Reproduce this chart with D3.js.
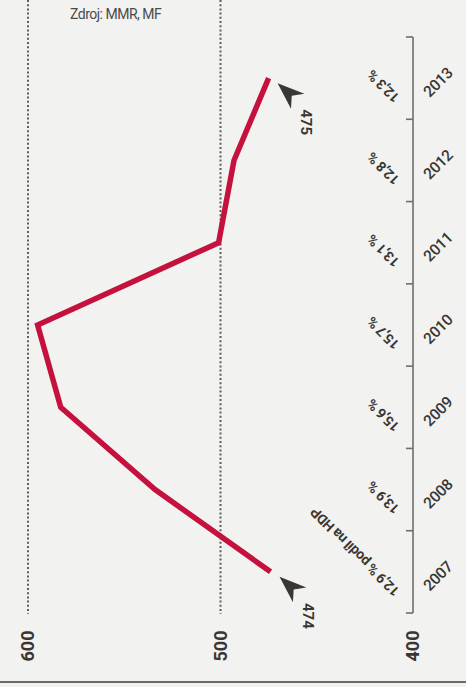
<!DOCTYPE html>
<html>
<head>
<meta charset="utf-8">
<script src="https://cdn.jsdelivr.net/npm/d3@7"></script>
<style>
  html, body { margin: 0; padding: 0; background: #f2f2f1; }
  svg { display: block; }
  text { font-family: Roboto, "Liberation Sans", sans-serif; fill: #3a3632; }
</style>
</head>
<body>
<div id="chart"></div>
<script>
// data (rotated chart: years run bottom -> top, values right -> left)
var years = ['2007', '2008', '2009', '2010', '2011', '2012', '2013'];
var values = [474, 534, 583, 595, 501, 493, 475];
var shares = ['12,9 % podíl na HDP', '13,9 %', '15,6 %', '15,7 %', '13,1 %', '12,8 %', '12,3 %'];
var valueTicks = [400, 500, 600];
var gridTicks = [500, 600];
var source = 'Zdroj: MMR, MF';

var W = 466, H = 687;

var svg = d3.select('#chart').append('svg')
    .attr('width', W).attr('height', H);

svg.append('rect').attr('width', W).attr('height', H).attr('fill', '#f2f2f1');

var x = d3.scaleLinear().domain([400, 600]).range([413, 28]);
var y = d3.scaleBand().domain(years).range([613, 37]);
var cy = function(d){ return y(d) + y.bandwidth() / 2; };

// dotted gridlines
svg.selectAll('line.grid').data(gridTicks).enter().append('line')
    .attr('class', 'grid')
    .attr('x1', function(d){ return x(d); })
    .attr('x2', function(d){ return x(d); })
    .attr('y1', 0).attr('y2', 614)
    .attr('stroke', '#5e5e5e')
    .attr('stroke-width', 2)
    .attr('stroke-dasharray', '2,2.2');

// value labels, rotated
svg.selectAll('text.val').data(valueTicks).enter().append('text')
    .attr('class', 'val')
    .attr('transform', function(d){ return 'translate(' + x(d) + ',646) rotate(-90)'; })
    .attr('text-anchor', 'middle')
    .attr('dy', '0.35em')
    .style('font-size', '18px')
    .style('font-weight', 'bold')
    .text(function(d){ return d; });

// year axis at value 400 with ticks on band edges
var ax = x(400);
var edges = years.map(function(d){ return y(d) + y.bandwidth(); });
edges.push(y(years[years.length - 1]));

svg.append('line')
    .attr('x1', ax).attr('x2', ax)
    .attr('y1', y.range()[1]).attr('y2', y.range()[0])
    .attr('stroke', '#6e6e6e').attr('stroke-width', 1.6);

svg.selectAll('line.tick').data(edges).enter().append('line')
    .attr('class', 'tick')
    .attr('x1', ax - 7).attr('x2', ax)
    .attr('y1', function(d){ return d; })
    .attr('y2', function(d){ return d; })
    .attr('stroke', '#6e6e6e').attr('stroke-width', 1.6);

// year labels
svg.selectAll('text.year').data(years).enter().append('text')
    .attr('class', 'year')
    .attr('transform', function(d){ return 'translate(438,' + (cy(d) + 4) + ') rotate(-45)'; })
    .attr('text-anchor', 'middle')
    .attr('dy', '0.35em')
    .style('font-size', '15.5px')
    .style('font-weight', '500')
    .style('letter-spacing', '-0.3px')
    .text(function(d){ return d; });

// share of GDP labels (upside down diagonal)
svg.selectAll('text.share').data(years).enter().append('text')
    .attr('class', 'share')
    .attr('transform', function(d){ return 'translate(397,' + (cy(d) + 22) + ') rotate(225)'; })
    .attr('text-anchor', 'start')
    .attr('dy', '0.35em')
    .style('font-size', '14px')
    .style('font-weight', 'bold')
    .style('letter-spacing', '-0.4px')
    .text(function(d, i){ return shares[i]; });

// line
var line = d3.line()
    .x(function(d, i){ return x(d); })
    .y(function(d, i){ return cy(years[i]); });

svg.append('path')
    .datum(values)
    .attr('d', line)
    .attr('fill', 'none')
    .attr('stroke', '#c5113d')
    .attr('stroke-width', 5.5)
    .attr('stroke-linejoin', 'miter');

// arrows + end values
var ends = [0, values.length - 1];

svg.selectAll('path.arrow').data(ends).enter().append('path')
    .attr('class', 'arrow')
    .attr('d', 'M0,0 L27,-10 L19,0 L27,10 Z')
    .attr('transform', function(i){
        return 'translate(' + (x(values[i]) + 9) + ',' + (cy(years[i]) + 5) + ') rotate(42)';
    })
    .attr('fill', '#3a3632');

svg.selectAll('text.end').data(ends).enter().append('text')
    .attr('class', 'end')
    .attr('transform', function(i){
        return 'translate(' + (x(values[i]) + 38) + ',' + (cy(years[i]) + 44) + ') rotate(90)';
    })
    .attr('text-anchor', 'middle')
    .attr('dy', '0.35em')
    .style('font-size', '15px')
    .style('font-weight', 'bold')
    .text(function(i){ return values[i]; });

// source
svg.append('text')
    .attr('x', 70).attr('y', 19)
    .style('font-size', '14px')
    .style('letter-spacing', '-0.5px')
    .style('fill', '#4a4a4a')
    .text(source);

// bottom rule
svg.append('line')
    .attr('x1', 0).attr('x2', W)
    .attr('y1', 682).attr('y2', 682)
    .attr('stroke', '#6a6a6a').attr('stroke-width', 2);
</script>
</body>
</html>
